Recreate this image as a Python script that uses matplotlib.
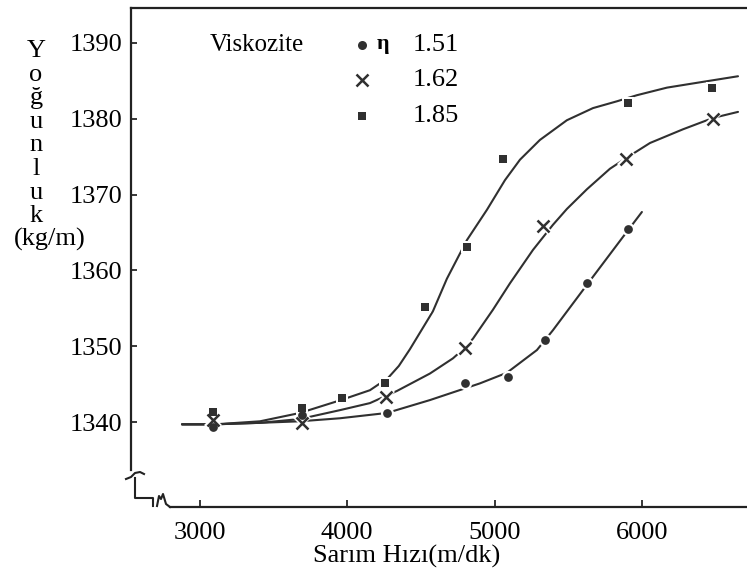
import matplotlib
matplotlib.use("Agg")
import matplotlib.pyplot as plt
from matplotlib.lines import Line2D

plt.rcParams['font.family'] = ['Liberation Serif', 'DejaVu Serif']

# measured points (Sarim hizi m/dk, Yogunluk kg/m)
x_151 = [3089, 3693, 4269, 4798, 5090, 5341, 5626, 5904]
y_151 = [1339.3, 1340.9, 1341.2, 1345.1, 1345.9, 1350.8, 1358.3, 1365.5]

x_162 = [3089, 3693, 4263, 4798, 5328, 5891, 6481]
y_162 = [1340.3, 1339.9, 1343.3, 1349.8, 1365.9, 1374.7, 1380.0]

x_185 = [3089, 3693, 3964, 4256, 4527, 4812, 5056, 5904, 6474]
y_185 = [1341.3, 1341.8, 1343.2, 1345.1, 1355.2, 1363.1, 1374.7, 1382.1, 1384.1]

# hand drawn fit curves
cx_151 = [2879, 3102, 3408, 3679, 3950, 4269, 4561, 4900, 5083, 5287, 5395, 5626, 5870, 5999]
cy_151 = [1339.7, 1339.7, 1339.9, 1340.1, 1340.5, 1341.2, 1342.9, 1345.1, 1346.5, 1349.5,
          1352.1, 1358.1, 1364.4, 1367.7]

cx_162 = [2879, 3102, 3408, 3679, 3957, 4154, 4337, 4561, 4717, 4798, 4853, 4988, 5104,
          5260, 5395, 5490, 5626, 5782, 5891, 6054, 6277, 6481, 6651]
cy_162 = [1339.7, 1339.7, 1339.9, 1340.4, 1341.6, 1342.5, 1344.1, 1346.4, 1348.4, 1349.8,
          1351.0, 1354.8, 1358.3, 1362.7, 1366.0, 1368.1, 1370.7, 1373.4, 1374.8, 1376.8,
          1378.6, 1380.1, 1380.9]

cx_185 = [2879, 3102, 3408, 3679, 3957, 4154, 4276, 4350, 4425, 4581, 4676, 4812, 4948,
          5070, 5172, 5307, 5490, 5667, 5830, 5965, 6169, 6393, 6651]
cy_185 = [1339.7, 1339.7, 1340.1, 1341.2, 1342.9, 1344.2, 1345.8, 1347.4, 1349.6, 1354.6,
          1358.9, 1364.0, 1368.0, 1371.9, 1374.6, 1377.2, 1379.8, 1381.4, 1382.3, 1383.1,
          1384.1, 1384.8, 1385.6]

x_ticks = [3000, 4000, 5000, 6000]
y_ticks = [1340, 1350, 1360, 1370, 1380, 1390]
legend_labels = ['1.51', '1.62', '1.85']

W, H = 747, 577
ink = '#303030'


def fx(px):
    return px / W


def fy(py):
    return 1 - py / H


fig = plt.figure(figsize=(W / 100, H / 100), dpi=100)
ax = fig.add_axes([fx(131), fy(507), fx(747 - 131), (507 - 8) / H])
ax.set_xlim(2533, 6712)
ax.set_ylim(1328.8, 1394.6)

for cx, cy in [(cx_151, cy_151), (cx_162, cy_162), (cx_185, cy_185)]:
    ax.plot(cx, cy, color=ink, lw=1.5, solid_capstyle='round', solid_joinstyle='round', zorder=2)

# white halo so the line breaks round each marker
ax.plot(x_151, y_151, 'o', ms=9.5, color='white', mew=0, zorder=3)
ax.plot(x_185, y_185, 's', ms=9, color='white', mew=0, zorder=3)
ax.plot(x_162, y_162, 'x', ms=10, color='white', mew=4, zorder=3)
ax.plot(x_151, y_151, 'o', ms=6.3, color=ink, mew=0, zorder=4)
ax.plot(x_185, y_185, 's', ms=5.8, color=ink, mew=0, zorder=4)
ax.plot(x_162, y_162, 'x', ms=8, color=ink, mew=1.8, zorder=4)

ax.set_xticks(x_ticks)
ax.set_yticks(y_ticks)
ax.tick_params(axis='x', direction='in', length=5, width=1.1, pad=11, labelsize=19)
ax.tick_params(axis='y', direction='in', length=4, width=1.1, pad=6, labelsize=19)

ax.spines['right'].set_visible(False)
for s in ['left', 'top', 'bottom']:
    ax.spines[s].set_linewidth(1.6)
    ax.spines[s].set_color('#222222')
ax.spines['left'].set_bounds(1333.7, 1394.6)
ax.spines['bottom'].set_bounds(2797, 6712)

# axis break marks in the lower left corner
breaks = [
    [(126, 479), (131, 477), (135, 473), (140, 472), (144, 474)],
    [(135, 478), (135, 498), (153, 498), (153, 506)],
    [(157, 506), (159, 496), (161, 499), (163, 494), (166, 504), (170, 507)],
]
for pts in breaks:
    fig.add_artist(Line2D([fx(p[0]) for p in pts], [fy(p[1]) for p in pts],
                          color='#222222', lw=1.5))

# y label written as a column of letters
letters = ['Y', 'o', 'ğ', 'u', 'n', 'l', 'u', 'k']
for i, ch in enumerate(letters):
    fig.text(fx(36), fy(57 + 23.6 * i), ch, ha='center', va='baseline', fontsize=19)
fig.text(fx(50), fy(57 + 23.6 * 8), '(kg/m)', ha='center', va='baseline', fontsize=19)

fig.text(fx(407), fy(556), 'Sarım Hızı(m/dk)', ha='center', va='center', fontsize=19)

# legend
fig.text(fx(210), fy(45), 'Viskozite', ha='left', va='center', fontsize=18)
fig.text(fx(383), fy(44), 'η', ha='center', va='center', fontsize=16, fontweight='bold')
leg_y = [45, 80, 116]
leg_style = [dict(marker='o', ms=6.5, mew=0), dict(marker='x', ms=8, mew=1.8),
             dict(marker='s', ms=5.8, mew=0)]
for lab, py, st in zip(legend_labels, leg_y, leg_style):
    fig.add_artist(Line2D([fx(362)], [fy(py)], color=ink, ls='none', **st))
    fig.text(fx(413), fy(py), lab, ha='left', va='center', fontsize=19)

fig.savefig('out.png', dpi=100)
